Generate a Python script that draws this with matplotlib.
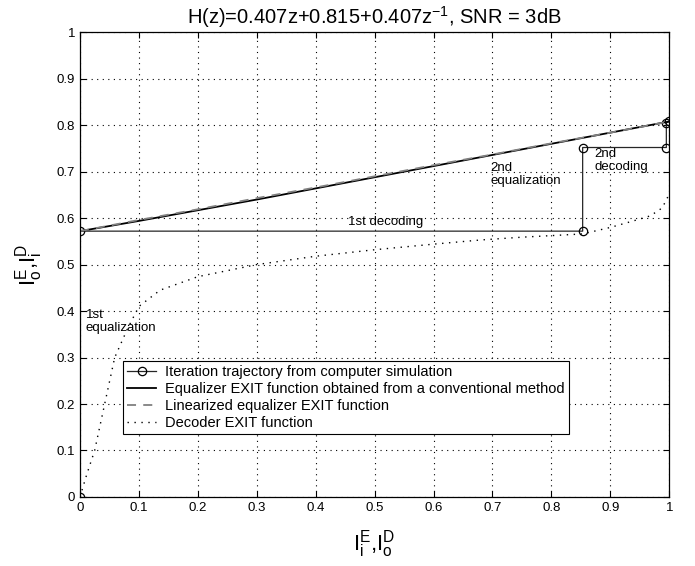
import matplotlib
matplotlib.use("Agg")
from matplotlib import pyplot as plt

matplotlib.rcParams["font.family"] = ["Liberation Sans", "DejaVu Sans"]
matplotlib.rcParams["mathtext.fontset"] = "custom"
matplotlib.rcParams["mathtext.rm"] = "Liberation Sans"

# 迭代轨迹 (计算机仿真)
traj_x = [0, 0, 0.853, 0.853, 0.995, 0.995, 1.0]
traj_y = [0, 0.572, 0.572, 0.752, 0.752, 0.805, 0.808]

# 均衡器 EXIT 函数 (传统方法)
eq_x = [0, 0.1, 0.2, 0.3, 0.4, 0.5, 0.6, 0.7, 0.8, 0.9, 1.0]
eq_y = [0.572, 0.594, 0.617, 0.640, 0.664, 0.688, 0.712, 0.736, 0.760, 0.784, 0.808]

# 线性化均衡器 EXIT 函数
lin_x = [0, 0.1, 0.2, 0.3, 0.4, 0.5, 0.6, 0.7, 0.8, 0.9, 1.0]
lin_y = [0.572, 0.596, 0.619, 0.643, 0.666, 0.690, 0.714, 0.737, 0.761, 0.784, 0.808]

# 译码器 EXIT 函数
dec_x = [0, 0.012, 0.025, 0.042, 0.059, 0.08, 0.10, 0.136, 0.2, 0.3, 0.4, 0.5,
         0.6, 0.68, 0.75, 0.853, 0.90, 0.939, 0.968, 0.988, 1.0]
dec_y = [0, 0.05, 0.10, 0.20, 0.30, 0.36, 0.41, 0.445, 0.474, 0.50, 0.518, 0.532,
         0.544, 0.553, 0.559, 0.566, 0.580, 0.594, 0.605, 0.622, 0.652]

ticks = [0, 0.1, 0.2, 0.3, 0.4, 0.5, 0.6, 0.7, 0.8, 0.9, 1]
tick_labels = ["0", "0.1", "0.2", "0.3", "0.4", "0.5", "0.6", "0.7", "0.8", "0.9", "1"]

fig = plt.figure(figsize=(6.95, 5.66), dpi=100)
ax = fig.add_axes([0.115, 0.122, 0.848, 0.821])

ax.plot(traj_x, traj_y, color="0.15", lw=0.9, marker="o", ms=6, mfc="none",
        mec="black", mew=0.9, label="Iteration trajectory from computer simulation")
ax.plot(eq_x, eq_y, color="black", lw=1.3,
        label="Equalizer EXIT function obtained from a conventional method")
ax.plot(lin_x, lin_y, color="0.5", lw=1.3, ls=(0, (5, 4)),
        label="Linearized equalizer EXIT function")
ax.plot(dec_x, dec_y, color="black", lw=1.0, ls=(0, (1, 4)),
        label="Decoder EXIT function")

ax.set_xlim(0, 1)
ax.set_ylim(0, 1)
ax.set_xticks(ticks, tick_labels)
ax.set_yticks(ticks, tick_labels)
ax.tick_params(direction="in", length=4, labelsize=9.5, top=True, right=True, width=0.8)
ax.grid(True, color="black", ls=(0, (1, 4)), lw=0.8)
for s in ax.spines.values():
    s.set_linewidth(0.9)

# 标注
ax.text(0.455, 0.578, "1st decoding", fontsize=9.5, va="bottom")
ax.text(0.01, 0.405, "1st\nequalization", fontsize=9.5, va="top", linespacing=1.1)
ax.text(0.696, 0.72, "2nd\nequalization", fontsize=9.5, va="top", linespacing=1.1)
ax.text(0.873, 0.75, "2nd\ndecoding", fontsize=9.5, va="top", linespacing=1.1)

ax.set_title("H(z)=0.407z+0.815+0.407z$^{-1}$, SNR = 3dB", fontsize=14.5, pad=6)
ax.set_xlabel(r"$\mathregular{I_i^E{,}I_o^D}$", fontsize=16, labelpad=10)
ax.set_ylabel(r"$\mathregular{I_o^E{,}I_i^D}$", fontsize=16, labelpad=8)

leg = ax.legend(loc="lower left", bbox_to_anchor=(0.073, 0.135), borderaxespad=0,
                fontsize=10.5, handlelength=2.0, labelspacing=0.2, fancybox=False,
                framealpha=1, edgecolor="black", borderpad=0.3, handletextpad=0.6)
leg.get_frame().set_linewidth(0.8)

plt.savefig("out.png", dpi=100)
